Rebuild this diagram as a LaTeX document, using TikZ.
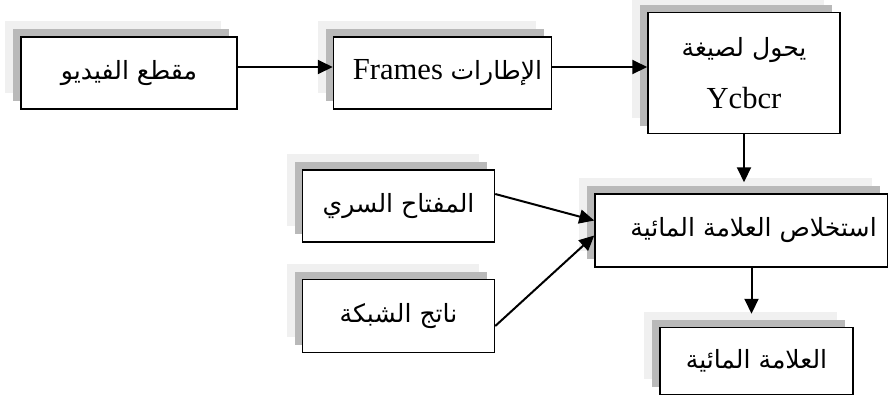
\documentclass[tikz,border=0pt]{standalone}
\usepackage{fontspec}
\setmainfont{Liberation Serif}
\newfontfamily\arabicfont[Script=Arabic,Scale=0.82]{DejaVu Sans}
\TeXXeTstate=1
\usetikzlibrary{
    arrows.meta,
    positioning,
    shadows
}
\definecolor{shadelight}{HTML}{F0F0F0}
\definecolor{shadedark}{HTML}{B9B9B9}

\begin{document}
\begin{tikzpicture}[
    node distance=29.5pt and 47.5pt,
    every node/.style={font=\fontsize{15.3}{17}\selectfont},
    block/.style={rectangle, draw, line width=0.75pt, fill=white, align=center,
      inner sep=2pt,
      general shadow={fill=shadelight, shadow xshift=-8pt, shadow yshift=8pt},
      general shadow={fill=shadedark, shadow xshift=-4pt, shadow yshift=4pt}},
    arrow/.style={-{Triangle[length=7.5pt,width=7pt]}, line width=1pt}
]
\useasboundingbox (0,0) rectangle (444pt,-199pt);

\node[block, minimum width=108pt, minimum height=36pt] (video) at (64.5pt,-36.5pt)
  {\arabicfont\beginR مقطع الفيديو\endR};
\node[block, minimum width=109pt, minimum height=36pt, right=of video] (frames)
  {\hspace*{5pt}\beginR{\arabicfont الإطارات} \beginL Frames\endL\endR};
\node[block, minimum width=96pt, minimum height=60.5pt, right=of frames] (ycbcr)
  {{\arabicfont\beginR يحول لصيغة\endR}\\[9pt]Ycbcr};
\node[block, minimum width=146.5pt, minimum height=36.5pt, below=of ycbcr, xshift=-1.25pt] (extract)
  {\hspace*{12pt}\arabicfont\beginR استخلاص العلامة المائية\endR};
\node[block, minimum width=96.5pt, minimum height=33.5pt, below=of extract, xshift=7.5pt] (watermark)
  {\arabicfont\beginR العلامة المائية\endR};
\node[block, minimum width=96pt, minimum height=36pt, left=49.5pt of extract, yshift=12.25pt] (key)
  {\arabicfont\beginR المفتاح السري\endR};
\node[block, minimum width=96pt, minimum height=36.5pt, below=18pt of key] (net)
  {\arabicfont\beginR ناتج الشبكة\endR};

\draw[arrow] ([yshift=3pt]video.east) -- ([yshift=3pt]frames.west);
\draw[arrow] ([yshift=3pt]frames.east) -- ([yshift=3pt]ycbcr.west);
\draw[arrow, shorten >=5.5pt] (ycbcr.south) -- (ycbcr.south |- extract.north);
\draw[arrow] ([yshift=6pt]key.east) -- ([yshift=5pt]extract.west);
\draw[arrow] ([yshift=-5pt]net.east) -- ([yshift=-2.5pt]extract.west);
\draw[arrow, shorten >=6.5pt] ([xshift=5pt]extract.south) -- ([xshift=-2.5pt]watermark.north);
\end{tikzpicture}
\end{document}
